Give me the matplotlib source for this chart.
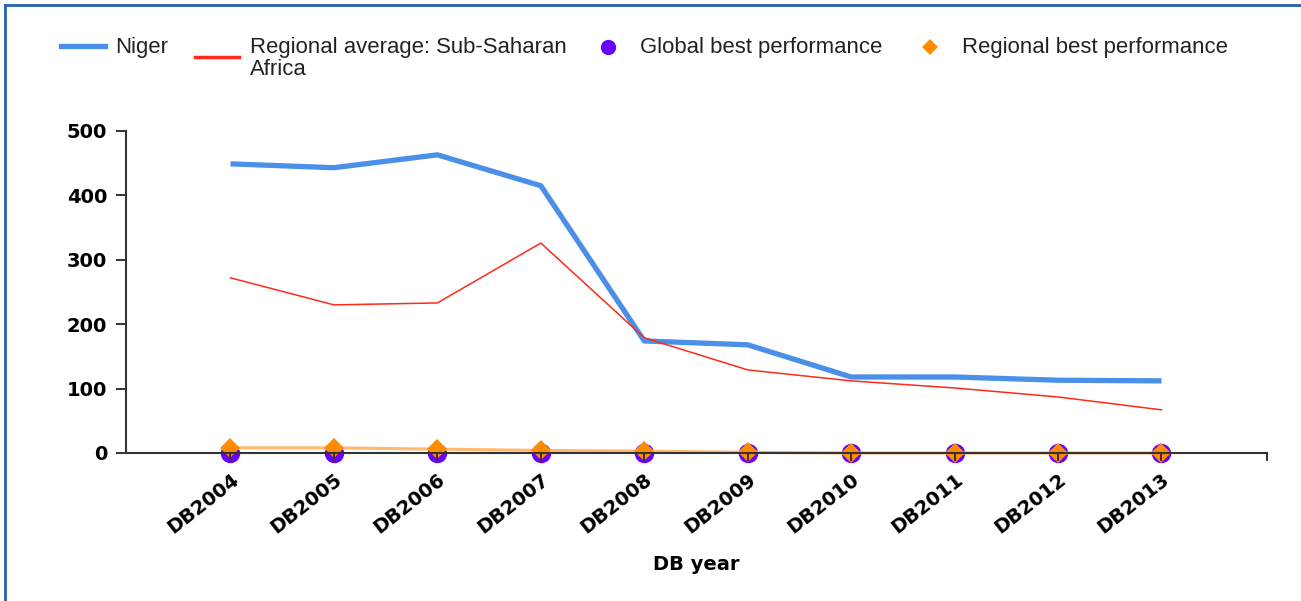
import matplotlib
matplotlib.use("Agg")
import matplotlib.pyplot as plt
from matplotlib.lines import Line2D
from matplotlib.transforms import Affine2D

years = ["DB2004", "DB2005", "DB2006", "DB2007", "DB2008",
         "DB2009", "DB2010", "DB2011", "DB2012", "DB2013"]
niger = [449, 443, 463, 415, 174, 168, 118, 118, 113, 112]
regional_avg = [272, 230, 233, 326, 179, 129, 112, 101, 87, 67]
global_best = [0, 0, 0, 0, 0, 0, 0, 0, 0, 0]
regional_best = [8, 8, 6, 4, 3, 1, 0, 0, 0, 0]
y_ticks = [0, 100, 200, 300, 400, 500]
legend_labels = ["Niger", "Regional average: Sub-Saharan\nAfrica",
                 "Global best performance", "Regional best performance"]

BLUE = "#4A8FE8"
RED = "#FF2A1A"
PURPLE = "#6A00FF"
ORANGE = "#FF8C00"
ORANGE_LINE = "#FFB870"

fig = plt.figure(figsize=(13.01, 6.01), dpi=100)
W, H = 1301, 601
ax = fig.add_axes([126 / W, (H - 453) / H, (1267 - 126) / W, (453 - 131) / H])

x = list(range(len(years)))
ax.plot(x, global_best, color=PURPLE, lw=1.2, marker="o", ms=14,
        markeredgewidth=0, clip_on=False, zorder=3)
ax.plot(x, regional_best, color=ORANGE_LINE, lw=2.2, marker="D", ms=10,
        markerfacecolor=ORANGE, markeredgewidth=0, clip_on=False, zorder=4)
ax.plot(x, niger, color=BLUE, lw=3.8, solid_capstyle="butt", zorder=5)
ax.plot(x, regional_avg, color=RED, lw=1.1, zorder=6)

ax.set_xlim(-1.01, 10.02)
ax.set_ylim(0, 500)
ax.set_xticks(x)
ax.set_xticklabels(years, rotation=38, ha="right", rotation_mode="anchor",
                   fontsize=14, fontweight="bold", family="DejaVu Sans")
ax.set_xticks([10.02], minor=True)
ax.set_yticks(y_ticks)
ax.set_yticklabels([str(v) for v in y_ticks], fontsize=14, fontweight="bold",
                   family="DejaVu Sans")
ax.tick_params(axis="x", which="both", direction="out", length=6, width=1.4,
               color="#333333", pad=6)
ax.tick_params(axis="y", direction="out", length=7, width=1.4, color="#333333", pad=6.5)
for side in ("top", "right"):
    ax.spines[side].set_visible(False)
for side in ("left", "bottom"):
    ax.spines[side].set_color("#333333")
    ax.spines[side].set_linewidth(1.5)
    ax.spines[side].set_zorder(10)
ax.xaxis.set_zorder(11)
ax.yaxis.set_zorder(11)
ax.set_xlabel("DB year", fontsize=14, fontweight="bold", family="DejaVu Sans", labelpad=13)

# legend, placed in figure pixel coordinates (origin top-left)
px = Affine2D().scale(1 / W, -1 / H).translate(0, 1) + fig.transFigure
lfont = dict(family="Liberation Sans", size=15.9, color="#222222", va="baseline",
             linespacing=1.05)
fig.add_artist(Line2D([61, 105], [46, 46], color=BLUE, lw=3.8, transform=px))
fig.text(115, 53, legend_labels[0], transform=px, **lfont)
fig.add_artist(Line2D([195, 239], [57, 57], color=RED, lw=2.5, transform=px))
fig.text(250, 37, legend_labels[1], transform=px, **{**lfont, "va": "top"})
fig.add_artist(Line2D([608], [47], color=PURPLE, lw=0, marker="o", ms=11,
                      markeredgewidth=0, transform=px))
fig.text(640, 53, legend_labels[2], transform=px, **lfont)
fig.add_artist(Line2D([930], [47], color=ORANGE, lw=0, marker="D", ms=8,
                      markeredgewidth=0, transform=px))
fig.text(962, 53, legend_labels[3], transform=px, **lfont)

# frame lines (top and left)
fig.add_artist(Line2D([5, 5], [5, H], color="#2563AE", lw=2, transform=px))
fig.add_artist(Line2D([5, W], [5, 5], color="#2563AE", lw=2, transform=px))

fig.savefig("out.png", dpi=100)
